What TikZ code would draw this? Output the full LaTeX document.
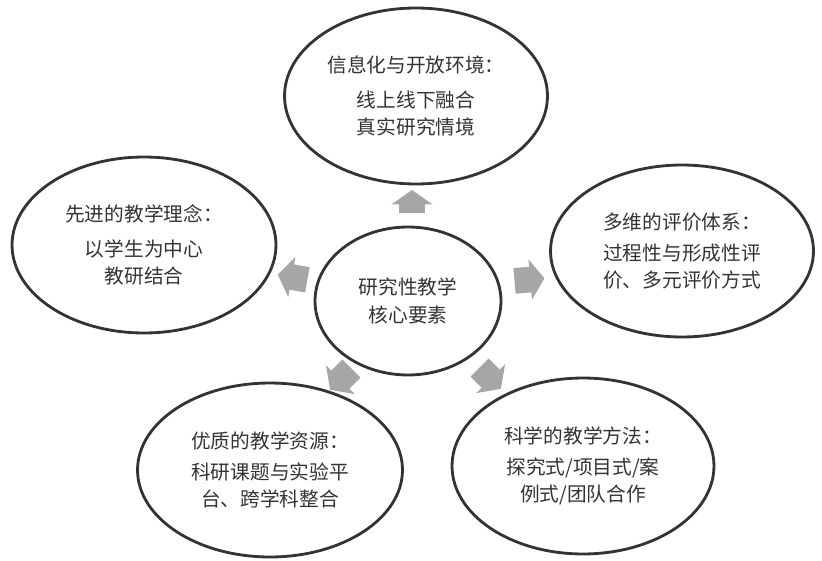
\documentclass[tikz,border=0pt]{standalone}
\usepackage{fontspec}
\setmainfont{Noto Sans CJK SC}
\usetikzlibrary{shapes,arrows,positioning}

\tikzset{
  bubble/.style={ellipse, draw=black!80, line width=1.6pt, align=center, text=black!80,
    inner sep=0pt, font=\fontsize{11.2pt}{15.5pt}\selectfont},
  blockarrow/.style={single arrow, fill=black!35, draw=none, minimum height=0.6cm,
    inner xsep=0pt, inner ysep=0.25cm, single arrow head extend=0.15cm, single arrow tip angle=110}
}

\begin{document}
\begin{tikzpicture}[x=0.02cm,y=-0.02cm]
  \useasboundingbox (0,0) rectangle (822,561);

  % Core element
  \node[bubble, minimum width=3.72cm, minimum height=2.96cm] (core) at (408,301) {研究性教学\\核心要素};

  % Outer elements
  \node[bubble, minimum width=5.26cm, minimum height=3.52cm] (env) at (416,96)
    {信息化与开放环境：\\[4pt]线上线下融合\\真实研究情境};
  \node[bubble, minimum width=5.28cm, minimum height=3.52cm] (idea) at (144,245)
    {先进的教学理念：\\[4pt]以学生为中心\\教研结合};
  \node[bubble, minimum width=5.26cm, minimum height=3.44cm] (eval) at (682,251)
    {多维的评价体系：\\[2pt]过程性与形成性评\\价、多元评价方式};
  \node[bubble, minimum width=5.3cm, minimum height=3.48cm] (res) at (270,470)
    {优质的教学资源：\\[2pt]科研课题与实验平\\台、跨学科整合};
  \node[bubble, minimum width=5.24cm, minimum height=3.52cm] (meth) at (583,466)
    {科学的教学方法：\\[2pt]探究式/项目式/案\\例式/团队合作};

  % Arrows
  \node[blockarrow, rotate=90, minimum height=0.46cm] (toenv) at (412,206) {};
  \node[blockarrow, rotate=170] (toidea) at (297,278) {};
  \node[blockarrow, rotate=5] (toeval) at (525,280) {};
  \node[blockarrow, rotate=225] (tores) at (344,376) {};
  \node[blockarrow, rotate=-45] (tometh) at (487,375) {};
\end{tikzpicture}
\end{document}
